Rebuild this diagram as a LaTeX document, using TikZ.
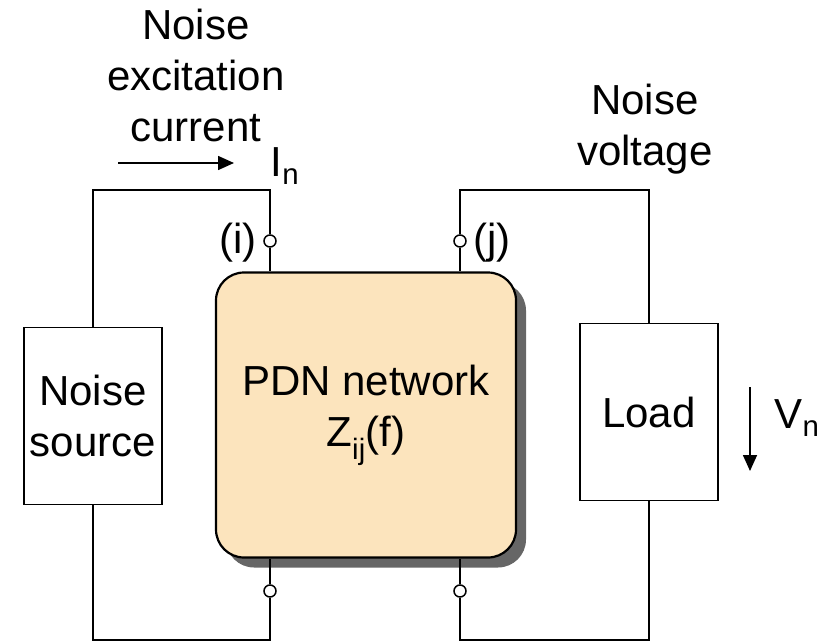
\documentclass[tikz,border=0pt]{standalone}
\usepackage{fontspec}
\setmainfont{Liberation Sans}
\usetikzlibrary{arrows.meta,shadows}
\definecolor{pdnfill}{HTML}{FCE4BD}

\tikzset{
  blk/.style={draw,line width=1.8pt,fill=white,minimum width=138pt,minimum height=177pt,align=center,inner sep=0pt},
  pdnbox/.style={draw,line width=2.2pt,fill=pdnfill,rounded corners=28pt,minimum width=300pt,minimum height=285pt,align=center,
    drop shadow={shadow xshift=10pt,shadow yshift=-10pt,fill=black!60,opacity=1}},
  term/.style={circle,draw,line width=1.5pt,fill=white,inner sep=0pt,minimum size=12pt},
  lbl/.style={align=center,inner sep=0pt},
  wire/.style={line width=1.9pt},
  flow/.style={line width=1.6pt,-{Triangle[length=16pt,width=14pt]}}
}

\begin{document}
\begin{tikzpicture}[x=1pt,y=-1pt,font=\fontsize{42}{51}\selectfont]
\useasboundingbox (0,0) rectangle (838,642);

% blocks
\node[blk] (src) at (93,416) {Noise\\source};
\node[pdnbox] (pdn) at (366,415) {PDN network\\Z\textsubscript{ij}(f)};
\node[blk] (load) at (649,412) {Load};

% ports
\node[term] (ti) at (270,241) {};
\node[term] (tj) at (460,241) {};
\node[term] (bi) at (270,591) {};
\node[term] (bj) at (460,591) {};

\coordinate (tl) at (93,190);
\coordinate (tr) at (649,190);
\coordinate (bl) at (93,640);
\coordinate (br) at (649,640);

% wires
\draw[wire] (src.north) -- (tl) -| (ti);
\draw[wire] (ti) -- (ti |- pdn.north);
\draw[wire] (tj) |- (tr) -- (load.north);
\draw[wire] (tj) -- (tj |- pdn.north);
\draw[wire] (src.south) -- (bl) -| (bi);
\draw[wire] (bi) -- (bi |- pdn.south);
\draw[wire] (bj) |- (br) -- (load.south);
\draw[wire] (bj) -- (bj |- pdn.south);

% labels
\node[lbl] (exc) at (196,75) {Noise\\excitation\\current};
\node[lbl] (nv) at (645,129) {Noise\\voltage};
\node[lbl] (cur) at (285,166) {I\textsubscript{n}};
\node[lbl] (vn) at (797,418) {V\textsubscript{n}};
\node[lbl] (pi) at (238,243) {(i)};
\node[lbl] (pj) at (492,243) {(j)};

\coordinate (a1) at (118,163);
\coordinate (a2) at (234,163);
\coordinate (v1) at (750,387);
\coordinate (v2) at (750,471);
\draw[flow] (a1) -- (a2);
\draw[flow] (v1) -- (v2);
\end{tikzpicture}
\end{document}
